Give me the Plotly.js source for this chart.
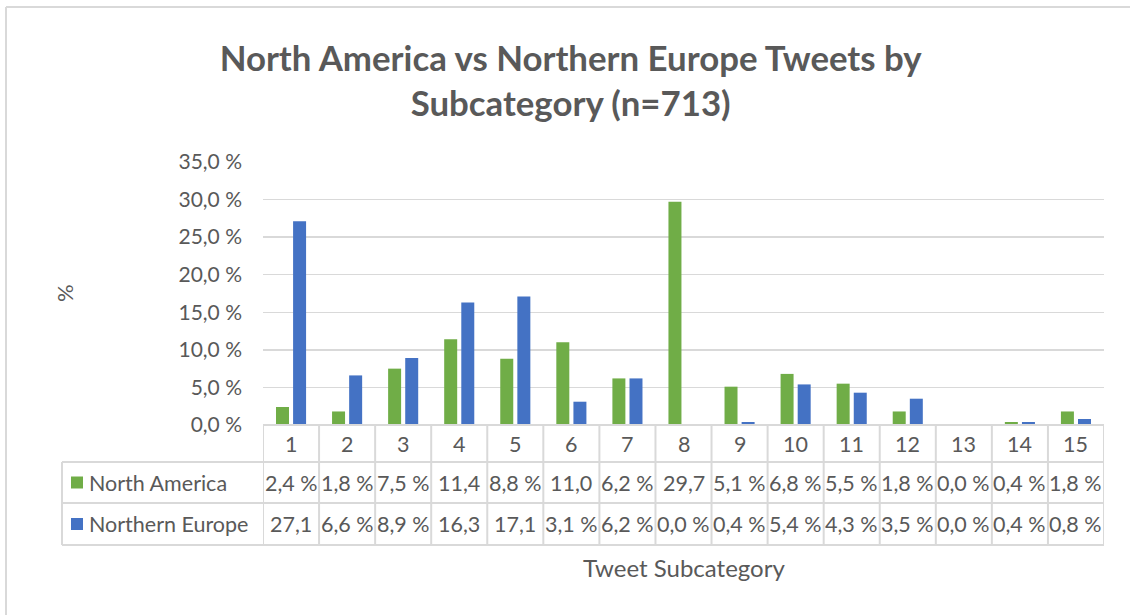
<!DOCTYPE html>
<html>
<head>
<meta charset="utf-8">
<script src="https://cdn.plot.ly/plotly-3.0.1.min.js"></script>
<style>
html,body{margin:0;padding:0;background:#fff;}
#chart{width:1130px;height:615px;}
</style>
</head>
<body>
<div id="chart"></div>
<script>
// ---- data ----
const categories = [1,2,3,4,5,6,7,8,9,10,11,12,13,14,15];
const northAmerica = [2.4,1.8,7.5,11.4,8.8,11.0,6.2,29.7,5.1,6.8,5.5,1.8,0.0,0.4,1.8];
const northernEurope = [27.1,6.6,8.9,16.3,17.1,3.1,6.2,0.0,0.4,5.4,4.3,3.5,0.0,0.4,0.8];
const seriesNames = ['North America','Northern Europe'];
const yTickVals = [0,5,10,15,20,25,30,35];
const yTickText = ['0,0 %','5,0 %','10,0 %','15,0 %','20,0 %','25,0 %','30,0 %','35,0 %'];

// ---- geometry helpers (pixels -> paper) ----
const W = 1130, H = 615;
const L = 263, R = 1104, T = 162, B = 425;
const pw = R - L, ph = B - T;
const px = x => (x - L) / pw;
const py = y => (B - y) / ph;

const GREEN = '#70ad47', BLUE = '#4472c4', TXT = '#595959', GRID = '#d9d9d9';
const FONT = 'Lato, "Open Sans", sans-serif';

function cellText(v){
  const s = v.toFixed(1).replace('.', ',');
  return v >= 10 ? s : s + ' %';
}

const traces = [
  {type:'bar', x:categories, y:northAmerica, name:seriesNames[0], marker:{color:GREEN}, hoverinfo:'skip'},
  {type:'bar', x:categories, y:northernEurope, name:seriesNames[1], marker:{color:BLUE}, hoverinfo:'skip'}
];

const shapes = [];
const annotations = [];
const lineStyle = {color:GRID, width:2};

// outer chart border (top and left)
shapes.push({type:'line', xref:'paper', yref:'paper', x0:px(6), x1:px(W), y0:py(7), y1:py(7), line:{color:'#d9d9d9', width:2}});
shapes.push({type:'line', xref:'paper', yref:'paper', x0:px(6), x1:px(6), y0:py(7), y1:py(H), line:{color:'#d9d9d9', width:2}});

// table rows
const yHead = 462, yRow1 = 503, yRow2 = 545, tableLeft = 62;
shapes.push({type:'line', xref:'paper', yref:'paper', x0:0, x1:1, y0:py(B), y1:py(B), line:lineStyle});
[yHead, yRow1, yRow2].forEach(y => {
  shapes.push({type:'line', xref:'paper', yref:'paper', x0:px(tableLeft), x1:1, y0:py(y), y1:py(y), line:lineStyle});
});
shapes.push({type:'line', xref:'paper', yref:'paper', x0:px(tableLeft), x1:px(tableLeft), y0:py(yHead), y1:py(yRow2), line:lineStyle});
for (let k = 0; k <= categories.length; k++) {
  shapes.push({type:'line', xref:'x', yref:'paper', x0:k+0.5, x1:k+0.5, y0:py(B), y1:py(yRow2), line:lineStyle});
}

// header labels and values
const cellFont = {family:FONT, size:21.5, color:TXT};
categories.forEach((c, i) => {
  annotations.push({xref:'x', yref:'paper', x:c, y:py((B+yHead)/2), text:String(c), showarrow:false, font:cellFont, xanchor:'center', yanchor:'middle'});
  annotations.push({xref:'x', yref:'paper', x:c, y:py((yHead+yRow1)/2), text:cellText(northAmerica[i]), showarrow:false, font:cellFont, xanchor:'center', yanchor:'middle'});
  annotations.push({xref:'x', yref:'paper', x:c, y:py((yRow1+yRow2)/2), text:cellText(northernEurope[i]), showarrow:false, font:cellFont, xanchor:'center', yanchor:'middle'});
});

// row legend keys
[[yHead, yRow1, GREEN, seriesNames[0]], [yRow1, yRow2, BLUE, seriesNames[1]]].forEach(([a, b, col, name]) => {
  const mid = (a + b) / 2;
  shapes.push({type:'rect', xref:'paper', yref:'paper', x0:px(71), x1:px(83), y0:py(mid-6), y1:py(mid+6), fillcolor:col, line:{width:0}});
  annotations.push({xref:'paper', yref:'paper', x:px(87), y:py(mid), text:name, showarrow:false, font:cellFont, xanchor:'left', yanchor:'middle'});
});

// axis titles
annotations.push({xref:'paper', yref:'paper', x:0.5, y:py(567), text:'Tweet Subcategory', showarrow:false, font:{family:FONT, size:24, color:TXT}, xanchor:'center', yanchor:'middle'});
annotations.push({xref:'paper', yref:'paper', x:px(64), y:py(293), text:'%', showarrow:false, textangle:-90, font:{family:FONT, size:22, color:TXT}, xanchor:'center', yanchor:'middle'});

const layout = {
  width:W, height:H,
  margin:{l:L, r:W-R, t:T, b:H-B},
  paper_bgcolor:'#fff', plot_bgcolor:'#fff',
  title:{text:'North America vs Northern Europe Tweets by<br>Subcategory (n=713)', x:0.505, xanchor:'center', y:1-80/H, yanchor:'middle',
         font:{family:FONT, size:34.8, color:TXT, weight:'bold'}},
  showlegend:false,
  barmode:'group', bargap:0.39, bargroupgap:0.24,
  xaxis:{range:[0.5, 15.5], showticklabels:false, showgrid:false, zeroline:false, showline:false, ticks:'', fixedrange:true},
  yaxis:{range:[0, 35], tickvals:yTickVals, ticktext:yTickText, showgrid:true, gridcolor:GRID, gridwidth:1.5,
         zeroline:false, showline:false, ticks:'', ticklen:0, ticklabelstandoff:20,
         tickfont:{family:FONT, size:21, color:TXT}, fixedrange:true},
  shapes:shapes, annotations:annotations
};

Plotly.newPlot('chart', traces, layout, {displayModeBar:false, staticPlot:true}).then(gd => {
  // nudge title to the reference position (line centres ~58 px and ~103 px)
  Plotly.relayout(gd, {'title.y': 1 - 71/H});
});
</script>
</body>
</html>
